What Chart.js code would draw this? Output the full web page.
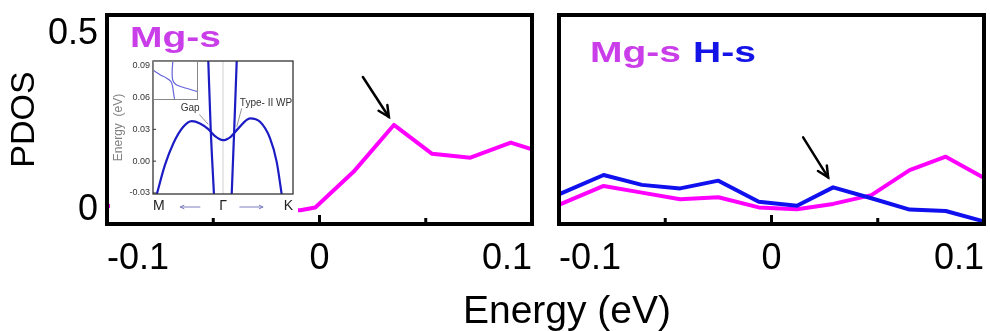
<!DOCTYPE html>
<html><head><meta charset="utf-8">
<script src="https://cdn.jsdelivr.net/npm/chart.js@4/dist/chart.umd.min.js"></script>
<style>
html,body{margin:0;padding:0;background:#fff;width:990px;height:331px;overflow:hidden;position:relative;font-family:"Liberation Sans",Arial,sans-serif}
canvas{position:absolute;display:block}
#left{left:0;top:0}
#right{left:545px;top:0}
#inset{left:110px;top:54px;background:#fff}
#zoom{left:153px;top:61px;background:#fff}
#xtitle{position:absolute;left:567px;top:290px;transform:translateX(-50%);font-size:39px;line-height:39px;white-space:nowrap;color:#000}
</style></head>
<body>
<canvas id="left" width="545" height="290"></canvas>
<canvas id="right" width="445" height="290"></canvas>
<canvas id="inset" width="188" height="162"></canvas>
<canvas id="zoom" width="45" height="39"></canvas>
<div id="xtitle">Energy (eV)</div>
<script>
// ---------- data ----------
const energyLeft = [-0.1, -0.009, -0.002, 0.016, 0.035, 0.053, 0.071, 0.090, 0.1];
const mgsLeft    = [0.003, -0.009, -0.001, 0.100, 0.233, 0.151, 0.140, 0.183, 0.164];

const energyRight = [-0.099, -0.079, -0.061, -0.043, -0.025, -0.006, 0.012, 0.029, 0.047, 0.065, 0.082, 0.099];
const mgsRight    = [0.009, 0.060, 0.041, 0.022, 0.028, -0.001, -0.006, 0.009, 0.034, 0.105, 0.143, 0.086];
const hsRight     = [0.039, 0.091, 0.063, 0.053, 0.075, 0.015, 0.004, 0.056, 0.025, -0.007, -0.011, -0.039];

const xTickValues = [-0.1, -0.05, 0, 0.05, 0.1];
const xTickLabels = ['-0.1', '', '0', '', '0.1'];
const yTickValues = [0, 0.5];
const yTickLabels = ['0', '0.5'];

// inset: band structure along M - Γ - K
const bandK = [-0.947, -0.83, -0.71, -0.567, -0.447, -0.329, -0.21, -0.114, 0, 0.11, 0.219, 0.386, 0.529, 0.671, 0.767, 0.839];
const bandE = [-0.0315, -0.0038, 0.0167, 0.0324, 0.0378, 0.0356, 0.0302, 0.0236, 0.0198, 0.023, 0.0309, 0.0404, 0.0371, 0.0217, -0.0007, -0.0315];
const steepLeftK  = [-0.21, -0.176, -0.129];
const steepLeftE  = [0.0945, 0.0309, -0.0315];
const steepRightK = [0.124, 0.161, 0.196];
const steepRightE = [-0.0315, 0.0309, 0.0945];
const insetYTicks = [-0.03, 0, 0.03, 0.06, 0.09];
const insetYLabels = ['-0.03', '0.00', '0.03', '0.06', '0.09'];
const insetXTicks = [-1, 0, 1];
const insetXLabels = ['M', 'Γ', 'K'];

// inset's corner zoom (relative units)
const zoomAX = [0.007, 0.157, 0.306, 0.396, 0.432, 0.454, 0.477];
const zoomAY = [0.76, 0.65, 0.56, 0.48, 0.37, 0.20, 0.03];
const zoomBX = [0.441, 0.425, 0.441, 0.515, 0.679, 0.978];
const zoomBY = [1.0, 0.72, 0.50, 0.39, 0.32, 0.22];

// ---------- styling ----------
const FONT = '"Liberation Sans", Arial, sans-serif';
Chart.defaults.font.family = FONT;
Chart.defaults.color = '#000';
const PINK = '#ff00ff', BLUE = '#1010ee';
const PINK_TXT = '#c93ee8', BLUE_TXT = '#1414e6';

const pts = (xs, ys) => xs.map((x, i) => ({x, y: ys[i]}));
const noPad = s => { s.paddingTop = 0; s.paddingBottom = 0; s.paddingLeft = 0; s.paddingRight = 0; };

function drawArrow(ctx, x1, y1, x2, y2, color, lw, head) {
  ctx.save();
  ctx.strokeStyle = color; ctx.lineWidth = lw; ctx.lineCap = 'round';
  ctx.beginPath(); ctx.moveTo(x1, y1); ctx.lineTo(x2, y2); ctx.stroke();
  const a = Math.atan2(y2 - y1, x2 - x1);
  ctx.beginPath();
  ctx.moveTo(x2 - head * Math.cos(a - 0.45), y2 - head * Math.sin(a - 0.45));
  ctx.lineTo(x2, y2);
  ctx.lineTo(x2 - head * Math.cos(a + 0.45), y2 - head * Math.sin(a + 0.45));
  ctx.stroke();
  ctx.restore();
}

function stretchedText(ctx, txt, x, y, color, size, sx) {
  ctx.save();
  ctx.font = 'bold ' + size + 'px ' + FONT;
  ctx.fillStyle = color; ctx.textBaseline = 'alphabetic'; ctx.textAlign = 'left';
  ctx.translate(x, y); ctx.scale(sx, 1);
  ctx.fillText(txt, 0, 0);
  const w = ctx.measureText(txt).width * sx;
  ctx.restore();
  return w;
}

// frame, inward ticks, labels, arrow
function panelPlugin(cfg) {
  return {
    id: 'panel',
    afterDatasetsDraw(chart) {
      const {ctx, chartArea: a, scales} = chart;
      ctx.save();
      ctx.strokeStyle = '#000'; ctx.lineWidth = 4;
      ctx.strokeRect(a.left, a.top, a.right - a.left, a.bottom - a.top);
      ctx.lineWidth = 3;
      xTickValues.forEach((v, i) => {
        if (i === 0 || i === xTickValues.length - 1) return;
        const px = scales.x.getPixelForValue(v);
        const len = v === 0 ? 9 : 6;
        ctx.beginPath(); ctx.moveTo(px, a.bottom); ctx.lineTo(px, a.bottom - len); ctx.stroke();
      });
      ctx.restore();
      // series names
      let x = a.left + cfg.labelDx;
      cfg.labels.forEach(l => {
        const w = stretchedText(ctx, l.text, x, a.top + cfg.labelDy, l.color, 30, 1.3);
        x += w + 12;
      });
      // arrow to the peak
      const el = chart.getDatasetMeta(cfg.arrowDs).data[cfg.arrowIdx];
      drawArrow(ctx, el.x + cfg.tail[0], el.y + cfg.tail[1], el.x + cfg.tip[0], el.y + cfg.tip[1], '#000', 2.5, 12);
    }
  };
}

function xAxis() {
  return {
    type: 'linear', min: -0.1, max: 0.1,
    afterBuildTicks: s => { s.ticks = xTickValues.map(v => ({value: v})); },
    ticks: {callback: (v, i) => xTickLabels[i], font: {size: 36}, color: '#000', padding: 13,
            align: 'inner', maxRotation: 0, autoSkip: false},
    grid: {display: false, drawTicks: false}, border: {display: false},
    afterFit: s => { s.height = 66; noPad(s); }
  };
}

const common = {
  responsive: false, animation: false, devicePixelRatio: 1,
  plugins: {legend: {display: false}, tooltip: {enabled: false}},
  elements: {point: {radius: 0}, line: {borderWidth: 4, tension: 0, borderJoinStyle: 'round', borderCapStyle: 'round'}}
};

// ---------- left panel ----------
new Chart(document.getElementById('left'), {
  type: 'line',
  data: {datasets: [{label: 'Mg-s', data: pts(energyLeft, mgsLeft), borderColor: PINK}]},
  options: Object.assign({}, common, {
    layout: {padding: {left: 0, right: 13, top: 15, bottom: 0}},
    scales: {
      x: xAxis(),
      y: {
        min: -0.048, max: 0.545,
        afterBuildTicks: s => { s.ticks = yTickValues.map(v => ({value: v})); },
        ticks: {callback: (v, i) => yTickLabels[i], font: {size: 36}, color: '#000', padding: 9, labelOffset: 3},
        grid: {display: false, drawTicks: false}, border: {display: false},
        title: {display: true, text: 'PDOS', font: {size: 34}, color: '#000', padding: {top: 4, bottom: 0}},
        afterFit: s => { s.width = 107; noPad(s); }
      }
    }
  }),
  plugins: [panelPlugin({labelDx: 23, labelDy: 32, labels: [{text: 'Mg-s', color: PINK_TXT}],
    arrowDs: 0, arrowIdx: 4, tail: [-31, -48], tip: [-5, -8]})]
});

// ---------- right panel ----------
new Chart(document.getElementById('right'), {
  type: 'line',
  data: {datasets: [
    {label: 'Mg-s', data: pts(energyRight, mgsRight), borderColor: PINK, order: 1},
    {label: 'H-s', data: pts(energyRight, hsRight), borderColor: BLUE, order: 0}
  ]},
  options: Object.assign({}, common, {
    layout: {padding: {left: 14, right: 6, top: 15, bottom: 0}},
    scales: {
      x: xAxis(),
      y: {display: false, min: -0.048, max: 0.545}
    }
  }),
  plugins: [panelPlugin({labelDx: 31, labelDy: 47,
    labels: [{text: 'Mg-s', color: PINK_TXT}, {text: 'H-s', color: BLUE_TXT}],
    arrowDs: 1, arrowIdx: 7, tail: [-30, -50], tip: [-5, -10]})]
});

// ---------- inset band structure ----------
const insetPlugin = {
  id: 'insetDeco',
  beforeDatasetsDraw(chart) {
    const {ctx, chartArea: a, scales} = chart;
    const gx = scales.x.getPixelForValue(0);
    ctx.save(); ctx.strokeStyle = '#cfcfcf'; ctx.lineWidth = 1;
    ctx.beginPath(); ctx.moveTo(gx, a.top); ctx.lineTo(gx, a.bottom); ctx.stroke(); ctx.restore();
  },
  afterDatasetsDraw(chart) {
    const {ctx, chartArea: a, scales: {x, y}} = chart;
    ctx.save();
    ctx.strokeStyle = '#333'; ctx.lineWidth = 1.3;
    ctx.strokeRect(a.left, a.top, a.right - a.left, a.bottom - a.top);
    ctx.lineWidth = 1;
    insetYTicks.forEach(v => {
      const py = y.getPixelForValue(v);
      ctx.beginPath(); ctx.moveTo(a.left, py); ctx.lineTo(a.left + 3, py); ctx.stroke();
    });
    // annotations
    ctx.fillStyle = '#333'; ctx.font = '10px ' + FONT; ctx.textAlign = 'center'; ctx.textBaseline = 'middle';
    ctx.fillText('Gap', x.getPixelForValue(-0.47), y.getPixelForValue(0.050));
    ctx.fillText('Type- II WP', x.getPixelForValue(0.614), y.getPixelForValue(0.0548));
    ctx.strokeStyle = '#777'; ctx.lineWidth = 0.8;
    ctx.beginPath();
    ctx.moveTo(x.getPixelForValue(-0.339), y.getPixelForValue(0.0441));
    ctx.lineTo(x.getPixelForValue(-0.21), y.getPixelForValue(0.0347));
    ctx.moveTo(x.getPixelForValue(0.267), y.getPixelForValue(0.0498));
    ctx.lineTo(x.getPixelForValue(0.196), y.getPixelForValue(0.0324));
    ctx.stroke();
    // path arrows
    const ay = a.bottom + 13;
    drawArrow(ctx, x.getPixelForValue(-0.33), ay, x.getPixelForValue(-0.61), ay, '#7c7cc0', 1, 4);
    drawArrow(ctx, x.getPixelForValue(0.24), ay, x.getPixelForValue(0.57), ay, '#7c7cc0', 1, 4);
    ctx.restore();
  }
};

new Chart(document.getElementById('inset'), {
  type: 'line',
  data: {datasets: [
    {data: pts(bandK, bandE), borderColor: '#1c1cc4', borderWidth: 2.2, cubicInterpolationMode: 'monotone'},
    {data: pts(steepLeftK, steepLeftE), borderColor: '#1c1cc4', borderWidth: 2.2, cubicInterpolationMode: 'monotone'},
    {data: pts(steepRightK, steepRightE), borderColor: '#1c1cc4', borderWidth: 2.2, cubicInterpolationMode: 'monotone'}
  ]},
  options: {
    responsive: false, animation: false, devicePixelRatio: 1,
    plugins: {legend: {display: false}, tooltip: {enabled: false}},
    elements: {point: {radius: 0}},
    layout: {padding: {left: 0, right: 5, top: 7, bottom: 0}},
    scales: {
      x: {
        type: 'linear', min: -1, max: 1,
        afterBuildTicks: s => { s.ticks = insetXTicks.map(v => ({value: v})); },
        ticks: {callback: (v, i) => insetXLabels[i], font: {size: 14}, color: '#222', padding: 4,
                align: 'inner', maxRotation: 0, autoSkip: false},
        grid: {display: false, drawTicks: false}, border: {display: false},
        afterFit: s => { s.height = 22; noPad(s); }
      },
      y: {
        min: -0.031, max: 0.0945,
        afterBuildTicks: s => { s.ticks = insetYTicks.map(v => ({value: v})); },
        ticks: {callback: (v, i) => insetYLabels[i], font: {size: 9}, color: '#333', padding: 3},
        grid: {display: false, drawTicks: false}, border: {display: false},
        title: {display: true, text: 'Energy  (eV)', font: {size: 12}, color: '#808080', padding: {top: 1, bottom: 0}},
        afterFit: s => { s.width = 43; noPad(s); }
      }
    }
  },
  plugins: [insetPlugin]
});

// ---------- inset corner zoom ----------
new Chart(document.getElementById('zoom'), {
  type: 'line',
  data: {datasets: [
    {data: pts(zoomAX, zoomAY), borderColor: '#6464dc', borderWidth: 1.2, tension: 0.3},
    {data: pts(zoomBX, zoomBY), borderColor: '#6464dc', borderWidth: 1.2, tension: 0.3}
  ]},
  options: {
    responsive: false, animation: false, devicePixelRatio: 1,
    plugins: {legend: {display: false}, tooltip: {enabled: false}},
    elements: {point: {radius: 0}},
    layout: {padding: 0},
    scales: {x: {display: false, type: 'linear', min: 0, max: 1}, y: {display: false, min: 0, max: 1}}
  },
  plugins: [{id: 'zoomBox', afterDatasetsDraw(chart) {
    const {ctx, chartArea: a} = chart;
    ctx.save(); ctx.strokeStyle = '#888'; ctx.lineWidth = 1;
    ctx.strokeRect(a.left + 0.5, a.top + 0.5, a.right - a.left - 1, a.bottom - a.top - 1);
    ctx.restore();
  }}]
});
</script>
</body></html>
